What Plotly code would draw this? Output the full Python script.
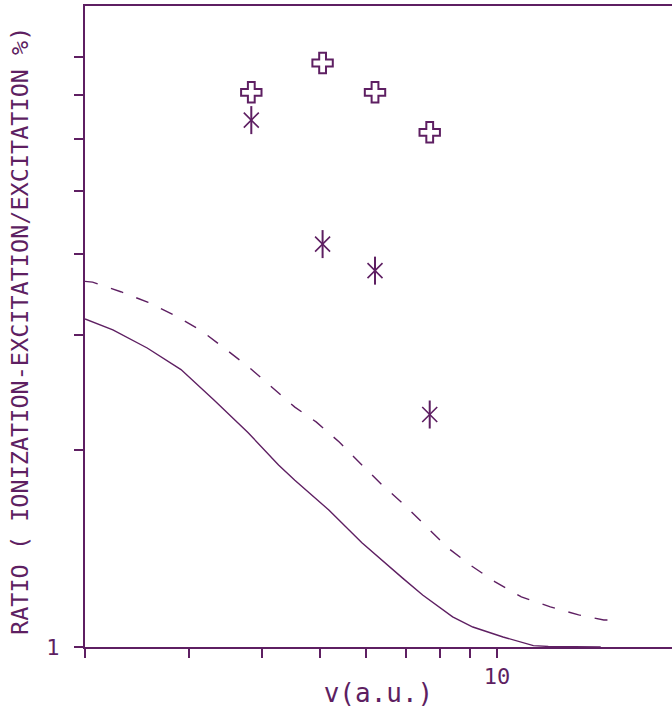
import math
import plotly.graph_objects as go

# Measured ratios (open crosses and asterisks)
v_plus = [3.83, 5.06, 6.21, 7.69]
ratio_plus = [7.07, 7.84, 7.07, 6.14]

v_star = [3.83, 5.06, 6.21, 7.69]
ratio_star = [6.41, 4.14, 3.77, 2.27]

# Calculated curves
v_solid = [2.0, 2.23, 2.55, 2.91, 3.31, 3.78, 4.26, 4.54, 5.19, 5.90, 6.91,
           7.48, 8.41, 9.10, 10.24, 11.08, 11.53, 12.22, 15.0]
ratio_solid = [3.18, 3.06, 2.87, 2.66, 2.39, 2.13, 1.90, 1.80, 1.62, 1.444,
               1.276, 1.201, 1.112, 1.073, 1.036, 1.014, 1.005, 1.002, 1.0]

v_dashed = [2.0, 2.06, 2.30, 2.56, 2.84, 3.15, 3.46, 3.78, 4.13, 4.54, 4.94,
            5.40, 5.90, 6.39, 6.97, 7.57, 8.25, 9.00, 9.93, 11.0, 12.32,
            13.76, 15.18, 15.5]
ratio_dashed = [3.63, 3.62, 3.50, 3.37, 3.22, 3.05, 2.86, 2.69, 2.51, 2.33,
                2.21, 2.06, 1.90, 1.77, 1.65, 1.53, 1.419, 1.336, 1.258,
                1.193, 1.152, 1.120, 1.100, 1.100]

x_ticks = [2, 3, 4, 5, 6, 7, 8, 9, 10]
x_ticktext = ["", "", "", "", "", "", "", "", "10"]
y_ticks = [1, 2, 3, 4, 5, 6, 7, 8]
y_ticktext = ["1", "", "", "", "", "", "", ""]

INK = "#5e1f62"
FONT = "DejaVu Sans Mono"

fig = go.Figure()

fig.add_trace(go.Scatter(
    x=v_solid, y=ratio_solid, mode="lines",
    line=dict(color=INK, width=1.4), showlegend=False))
fig.add_trace(go.Scatter(
    x=v_dashed, y=ratio_dashed, mode="lines",
    line=dict(color=INK, width=1.4, dash="13px,14px"), showlegend=False))

fig.add_trace(go.Scatter(
    x=v_plus, y=ratio_plus, mode="markers",
    marker=dict(symbol="cross-open", size=17, color=INK,
                line=dict(color=INK, width=2)),
    showlegend=False))

# asterisk: vertical bar plus diagonal arms
fig.add_trace(go.Scatter(
    x=v_star, y=ratio_star, mode="markers",
    marker=dict(symbol="line-ns", size=20, color=INK,
                line=dict(color=INK, width=2)),
    showlegend=False))
fig.add_trace(go.Scatter(
    x=v_star, y=ratio_star, mode="markers",
    marker=dict(symbol="x-thin", size=15, color=INK,
                line=dict(color=INK, width=1.6)),
    showlegend=False))

fig.update_layout(
    width=672, height=708,
    margin=dict(l=85, r=0, t=6, b=61),
    paper_bgcolor="white", plot_bgcolor="white",
    font=dict(family=FONT, color=INK, size=20),
    annotations=[dict(
        text="RATIO ( IONIZATION-EXCITATION/EXCITATION %)",
        xref="paper", yref="paper", x=0, y=0.493,
        xanchor="center", yanchor="middle", xshift=-65,
        textangle=-90, showarrow=False,
        font=dict(family=FONT, size=23.5, color=INK),
    )],
)

fig.update_xaxes(
    type="log",
    range=[math.log10(2), 1.297],
    automargin=False,
    showgrid=False, zeroline=False,
    showline=True, linecolor=INK, linewidth=2, mirror=True,
    ticks="outside", ticklen=9, tickwidth=2, tickcolor=INK,
    tickvals=x_ticks, ticktext=x_ticktext,
    tickfont=dict(family=FONT, size=22, color=INK),
    title=dict(text="v(a.u.)", font=dict(family=FONT, size=26, color=INK),
               standoff=2),
)

fig.update_yaxes(
    type="log",
    range=[0, 0.9816],
    automargin=False,
    showgrid=False, zeroline=False,
    showline=True, linecolor=INK, linewidth=2,
    ticks="outside", ticklen=9, tickwidth=2, tickcolor=INK,
    tickvals=y_ticks, ticktext=y_ticktext,
    tickfont=dict(family=FONT, size=22, color=INK),
    ticklabelstandoff=10,
)

fig.write_html("out.html")
